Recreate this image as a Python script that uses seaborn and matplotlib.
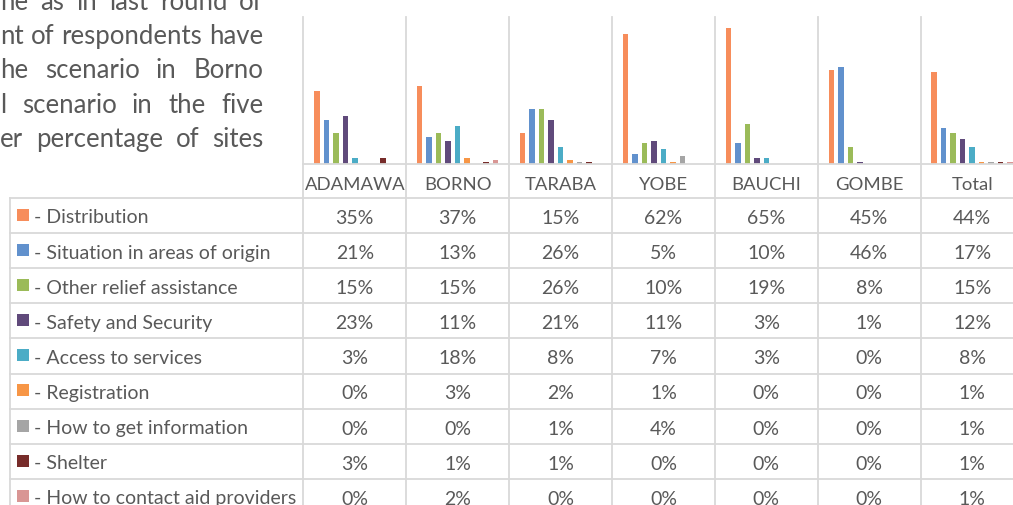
import matplotlib
matplotlib.use("Agg")
import matplotlib.pyplot as plt
import matplotlib.transforms as mtransforms
from matplotlib.lines import Line2D
from matplotlib.patches import Rectangle
import pandas as pd
import seaborn as sns

# ---- data -------------------------------------------------------------
regions = ["ADAMAWA", "BORNO", "TARABA", "YOBE", "BAUCHI", "GOMBE", "Total"]
topics = [
    "Distribution",
    "Situation in areas of origin",
    "Other relief assistance",
    "Safety and Security",
    "Access to services",
    "Registration",
    "How to get information",
    "Shelter",
    "How to contact aid providers",
]
distribution = [35, 37, 15, 62, 65, 45, 44]
situation_origin = [21, 13, 26, 5, 10, 46, 17]
other_relief = [15, 15, 26, 10, 19, 8, 15]
safety_security = [23, 11, 21, 11, 3, 1, 12]
access_services = [3, 18, 8, 7, 3, 0, 8]
registration = [0, 3, 2, 1, 0, 0, 1]
get_information = [0, 0, 1, 4, 0, 0, 1]
shelter = [3, 1, 1, 0, 0, 0, 1]
contact_providers = [0, 2, 0, 0, 0, 0, 1]

series = [distribution, situation_origin, other_relief, safety_security,
          access_services, registration, get_information, shelter,
          contact_providers]

colors = ["#F78D5B", "#6191CD", "#9BBB59", "#604A7B", "#4BACC6",
          "#F79646", "#A5A5A5", "#772C2A", "#D99694"]

paragraph = [
    "ne as in last round of",
    "nt of respondents have",
    "he scenario in Borno",
    "l scenario in the five",
    "er percentage of sites",
]

# ---- figure -----------------------------------------------------------
W, H = 1013, 506
plt.rcParams["font.family"] = ["Lato", "DejaVu Sans"]
TXT = "#595959"
GRID = "#D9D9D9"
FS_HEAD = 13.3
FS_TABLE = 14
FS_PARA = 18.5

fig = plt.figure(figsize=(W / 100, H / 100), dpi=100)
fig.patch.set_facecolor("white")

# pixel coordinates with origin at the top-left corner of the figure
px = mtransforms.Affine2D().scale(1 / W, -1 / H).translate(0, 1) + fig.transFigure

col_w = 102.9
left_px, top_px, base_px = 303.3, 18.0, 165.0
ax = fig.add_axes([left_px / W, 1 - base_px / H,
                   7 * col_w / W, (base_px - top_px) / H])

df = pd.DataFrame(
    [(r, t, v[i] / 100) for t, v in zip(topics, series)
     for i, r in enumerate(regions)],
    columns=["region", "topic", "share"],
)
sns.barplot(data=df, x="region", y="share", hue="topic", order=regions,
            hue_order=topics, palette=colors, width=0.83, gap=0.42,
            saturation=1, errorbar=None, linewidth=0, legend=False, ax=ax)
ax.set_xlim(-0.5, len(regions) - 0.5)
ax.set_ylim(0, 0.70)
ax.set_axis_off()

# x in data units of the chart, y in figure pixels
col_tr = mtransforms.blended_transform_factory(ax.transData, px)

# ---- grid and table lines ---------------------------------------------
lw = 1.3
for k in range(len(regions) + 1):
    fig.add_artist(Line2D([k - 0.5, k - 0.5], [top_px, H + 5],
                          transform=col_tr, color=GRID, lw=lw))
fig.add_artist(Line2D([left_px, W + 5], [base_px, base_px],
                      transform=px, color=GRID, lw=lw))

row_top0, row_h = 199.0, 35.1
for k in range(len(topics) + 1):
    y = row_top0 + k * row_h
    fig.add_artist(Line2D([10, W + 5], [y, y], transform=px,
                          color=GRID, lw=lw))
fig.add_artist(Line2D([10, 10], [row_top0, H + 5], transform=px,
                      color=GRID, lw=lw))

# ---- header row -------------------------------------------------------
for i, r in enumerate(regions):
    fig.text(i, 190.5, r, transform=col_tr, ha="center", va="baseline",
             fontsize=FS_HEAD, color=TXT)

# ---- body rows ----------------------------------------------------------
for j, (t, vals, c) in enumerate(zip(topics, series, colors)):
    top = row_top0 + j * row_h
    fig.add_artist(Rectangle((17, top + 11), 12, 12, transform=px,
                             facecolor=c, edgecolor="none"))
    fig.text(34, top + 24.5, "- " + t, transform=px, ha="left",
             va="baseline", fontsize=FS_TABLE, color=TXT)
    for i, v in enumerate(vals):
        fig.text(i, top + 25, f"{v}%", transform=col_tr, ha="center",
                 va="baseline", fontsize=FS_TABLE, color=TXT)

# ---- justified paragraph text at the top left ---------------------------
renderer = fig.canvas.get_renderer()
x0, x1 = 0.0, 263.0
for k, line in enumerate(paragraph):
    base = 147 - (len(paragraph) - 1 - k) * 34.3
    words = line.split()
    arts = [fig.text(0, base, w, transform=px, ha="left", va="baseline",
                     fontsize=FS_PARA, color=TXT) for w in words]
    widths = [a.get_window_extent(renderer).width for a in arts]
    gap = (x1 - x0 - sum(widths)) / (len(words) - 1)
    x = x0
    for a, wd in zip(arts, widths):
        a.set_position((x, base))
        x += wd + gap

fig.savefig("out.png", dpi=100, facecolor="white")
